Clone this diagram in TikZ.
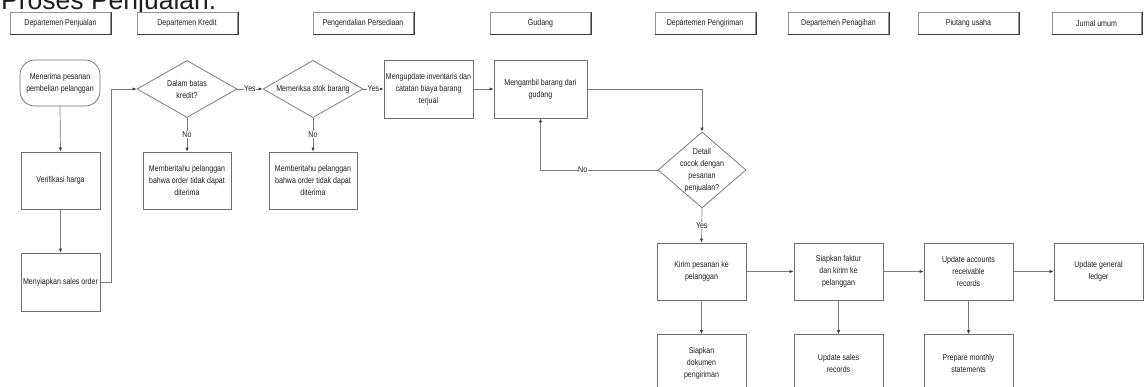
\documentclass[tikz,border=0pt]{standalone}
\usepackage{fontspec}
\setmainfont{Liberation Sans}
\newfontfamily\narrowsans{Liberation Sans}[FakeStretch=0.83]
\usetikzlibrary{shapes.geometric,arrows.meta}

\definecolor{edge}{HTML}{6E6E6E}
\definecolor{wire}{HTML}{7A7A7A}
\definecolor{ink}{HTML}{1E1E1E}
\definecolor{rimdark}{HTML}{3A3A3A}

\begin{document}
\begin{tikzpicture}[x=1pt,y=-1pt,
  font=\narrowsans\fontsize{8.5}{12}\selectfont,
  every node/.style={text=ink},
  lane/.style={draw=edge!75, line width=0.6pt, minimum width=100pt,
    minimum height=22pt, inner sep=0pt, fill=white},
  proc/.style={draw=edge, line width=0.7pt, minimum width=89pt,
    minimum height=57pt, inner sep=1pt, align=center, fill=white},
  term/.style={proc, rounded corners=15pt, minimum width=80pt, minimum height=46pt},
  decide/.style={draw=edge, line width=0.7pt, shape=diamond, inner sep=-6pt,
    align=center, fill=white},
  flow/.style={draw=wire, line width=0.7pt,
    -{Latex[length=4pt,width=3.2pt,color=rimdark]}},
  tag/.style={fill=white, inner sep=0.6pt},
  rim/.style={draw=rimdark, line width=0.8pt},
]
\useasboundingbox (0,0) rectangle (1146,387);

% title
\node[anchor=base west, inner sep=0pt, font=\rmfamily\fontsize{26.5}{30}\selectfont]
  (title) at (1,9.5) {Proses Penjualan.};

% lane headers
\node[lane] (h1) at (60.5,23)   {Departemen Penjualan};
\node[lane] (h2) at (187,23)    {Departemen Kredit};
\node[lane] (h3) at (363,23)    {Pengendalian Persediaan};
\node[lane] (h4) at (540.5,23)  {Gudang};
\node[lane] (h5) at (705,23)    {Departemen Pengiriman};
\node[lane] (h6) at (838.5,23)  {Departemen Penagihan};
\node[lane] (h7) at (968.5,23)  {Piutang usaha};
\node[lane, minimum width=89pt] (h8) at (1096.5,23) {Jurnal umum};
\foreach \h in {h1,h2,h3,h4,h5,h6,h7,h8}
  \draw[rim]
    ([xshift=0.6pt]\h.north east) -- ([xshift=0.6pt,yshift=-0.6pt]\h.south east)
    -- ([yshift=-0.6pt]\h.south west);

% sales department
\node[term] (n1) at (60,83) {Menerima pesanan\\pembelian pelanggan};
\node[proc, minimum width=79pt] (n2) at (60.5,180.5) {Verifikasi harga};
\node[proc, minimum width=79pt, minimum height=58pt] (n3) at (60.5,282) {Menyiapkan sales order};

% credit and inventory checks
\node[decide, minimum width=100pt, minimum height=57pt] (d1) at (187,89) {Dalam batas\\kredit?};
\node[decide, minimum width=100pt, minimum height=57pt] (d2) at (313,89) {Memeriksa stok barang};
\node[proc, minimum width=88pt] (r1) at (187,180.5) {Memberitahu pelanggan\\bahwa order tidak dapat\\diterima};
\node[proc, minimum width=88pt] (r2) at (313,180.5) {Memberitahu pelanggan\\bahwa order tidak dapat\\diterima};
\node[proc, minimum height=58pt] (n4) at (428.5,89) {Mengupdate inventaris dan\\catatan biaya barang\\terjual};

% warehouse and shipping
\node[proc, minimum width=93pt, minimum height=58pt] (n5) at (540.5,89) {Mengambil barang dari\\gudang};
\node[decide, minimum width=88pt, minimum height=76pt] (d3) at (702,170) {Detail\\cocok dengan\\pesanan\\penjualan?};
\node[proc] (n6) at (701.5,271.5) {Kirim pesanan ke\\pelanggan};
\node[proc] (n7) at (838.5,271.5) {Siapkan faktur\\dan kirim ke\\pelanggan};
\node[proc] (n8) at (968.5,271.5) {Update accounts\\receivable\\records};
\node[proc] (n9) at (1098.5,271.5) {Update general\\ledger};
\node[proc] (n10) at (701.5,363) {Siapkan\\dokumen\\pengiriman};
\node[proc] (n11) at (838.5,363) {Update sales\\records};
\node[proc] (n12) at (968.5,363) {Prepare monthly\\statements};

% connectors
\coordinate (jog) at (111,0);
\draw[flow] (n1.south) -- (n2.north);
\draw[flow] (n2.south) -- (n3.north);
\draw[flow] (n3.east) -- (n3.east -| jog) |- (d1.west);
\draw[flow] (d1.east) -- node[tag] (y1) {Yes} (d2.west);
\draw[flow] (d2.east) -- node[tag] (y2) {Yes} (n4.west);
\draw[flow] (d1.south) -- node[tag] (no1) {No} (r1.north);
\draw[flow] (d2.south) -- node[tag] (no2) {No} (r2.north);
\draw[flow] (n4.east) -- (n5.west);
\draw[flow] (n5.east) -| (d3.north);
\draw[flow] (d3.west) -| node[tag, pos=0.32] (no3) {No} (n5.south);
\draw[flow] (d3.south) -- node[tag] (y3) {Yes} (n6.north);
\draw[flow] (n6.east) -- (n7.west);
\draw[flow] (n7.east) -- (n8.west);
\draw[flow] (n8.east) -- (n9.west);
\draw[flow] (n6.south) -- (n10.north);
\draw[flow] (n7.south) -- (n11.north);
\draw[flow] (n8.south) -- (n12.north);
\end{tikzpicture}
\end{document}
